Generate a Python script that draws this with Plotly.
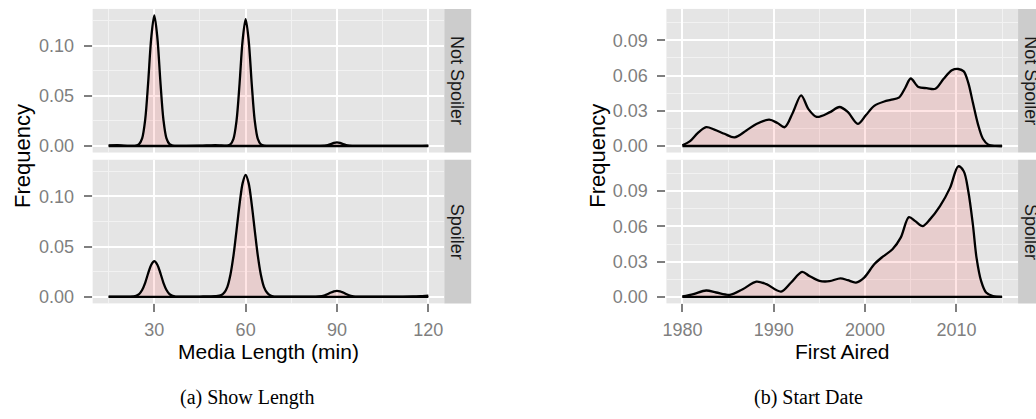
import plotly.graph_objects as go

# ---------------- data ----------------
facet_labels = ["Not Spoiler", "Spoiler"]

length_min = [15, 18, 20, 22, 24, 25, 26, 27, 28, 29, 30, 31, 32, 33, 34, 35, 36, 37, 38,
              40, 45, 48, 50, 52, 53, 54, 55, 56, 57, 58, 59, 60, 61, 62, 63, 64, 65, 66,
              67, 68, 69, 70, 75, 80, 84, 86, 87, 88, 89, 90, 91, 92, 93, 94, 95, 96,
              100, 105, 110, 115, 118, 120]

length_not_spoiler = [0.0006, 0.0008, 0.0004, 0.0002, 0.0004, 0.0018, 0.0075, 0.026, 0.064, 0.108,
                      0.130, 0.108, 0.064, 0.026, 0.0075, 0.0018, 0.0004, 0.0002, 0.0002,
                      0.0002, 0.0003, 0.0006, 0.0008, 0.0005, 0.0004, 0.0004, 0.0017, 0.0072,
                      0.025, 0.062, 0.105, 0.1264, 0.105, 0.062, 0.025, 0.0072, 0.0017, 0.0004,
                      0.0002, 0.0002, 0.0002, 0.0002, 0.0002, 0.0002, 0.0002, 0.0004, 0.0009,
                      0.0019, 0.0031, 0.0037, 0.0031, 0.0019, 0.0009, 0.0004, 0.0002, 0.0002,
                      0.0002, 0.0002, 0.0002, 0.0002, 0.0002, 0.0003]

length_spoiler = [0.0002, 0.0002, 0.0002, 0.0003, 0.0011, 0.0027, 0.0068, 0.014, 0.0236, 0.032,
                  0.0356, 0.032, 0.0236, 0.014, 0.0068, 0.0027, 0.0009, 0.0003, 0.0002,
                  0.0002, 0.0003, 0.0005, 0.0007, 0.0017, 0.0043, 0.010, 0.022, 0.041,
                  0.066, 0.092, 0.113, 0.1214, 0.113, 0.092, 0.066, 0.041, 0.022, 0.010,
                  0.0043, 0.0015, 0.0005, 0.0002, 0.0002, 0.0002, 0.0004, 0.0015, 0.0028,
                  0.0043, 0.0055, 0.006, 0.0055, 0.0043, 0.0028, 0.0015, 0.0006, 0.0003,
                  0.0002, 0.0002, 0.0002, 0.0004, 0.0008, 0.0011]

aired_ns_year = [1980.0, 1980.8, 1981.7, 1982.6, 1983.5, 1984.6, 1985.7, 1987.0, 1988.1, 1989.5,
                 1990.4, 1991.2, 1992.1, 1993.0, 1993.8, 1994.7, 1996.1, 1997.2, 1998.1, 1999.2,
                 2000.1, 2001.0, 2002.1, 2002.8, 2003.7, 2004.4, 2005.0, 2005.85, 2006.75, 2007.7,
                 2008.6, 2009.5, 2010.2, 2010.8, 2011.3, 2011.8, 2012.35, 2012.9, 2013.5, 2014.3,
                 2015.0]
aired_ns_freq = [0.0006, 0.0039, 0.0112, 0.0160, 0.0140, 0.0104, 0.0073, 0.0132, 0.0188, 0.0224,
                 0.0196, 0.0160, 0.0286, 0.0432, 0.0314, 0.0248, 0.0286, 0.0332, 0.0290, 0.0188,
                 0.0264, 0.0342, 0.0379, 0.0393, 0.0412, 0.0496, 0.0575, 0.0502, 0.0493, 0.0488,
                 0.0572, 0.0645, 0.0656, 0.0636, 0.0538, 0.0370, 0.0188, 0.0062, 0.0011, 0.0001,
                 0.0000]

aired_sp_year = [1980.0, 1981.2, 1982.6, 1983.7, 1985.2, 1986.6, 1988.1, 1989.2, 1990.8, 1991.9,
                 1993.1, 1993.9, 1995.0, 1996.1, 1997.3, 1998.1, 1999.0, 1999.9, 2001.0, 2001.9,
                 2003.0, 2003.9, 2004.8, 2005.5, 2006.3, 2007.1, 2008.2, 2009.3, 2010.2, 2010.8,
                 2011.3, 2011.8, 2012.2, 2012.7, 2013.25, 2014.0, 2015.0]
aired_sp_freq = [0.0003, 0.0023, 0.0054, 0.0037, 0.0017, 0.0065, 0.0130, 0.0108, 0.0045, 0.0122,
                 0.0212, 0.0178, 0.0136, 0.0133, 0.0158, 0.0142, 0.0122, 0.0164, 0.0277, 0.0340,
                 0.0405, 0.0504, 0.0679, 0.0645, 0.0603, 0.0660, 0.0773, 0.0928, 0.1112, 0.1070,
                 0.0900, 0.0617, 0.0334, 0.0136, 0.0037, 0.0006, 0.0000]

length_tick0, length_dtick = 0, 30
year_tick0, year_dtick = 1980, 10
len_freq_dtick = 0.05
year_freq_dtick = 0.03

x_titles = ["Media Length (min)", "First Aired"]
y_title = "Frequency"
captions = ["(a) Show Length", "(b) Start Date"]

# ---------------- layout helpers ----------------
W, H = 1036, 419


def fx(p):
    return p / W


def fy(p):
    return 1 - p / H


LEFT = [fx(89), fx(442)]
RIGHT = [fx(665), fx(1018)]
TOP = [fy(154), fy(9)]
BOT = [fy(306.3), fy(161.3)]

PANEL_BG = "#E5E5E5"
MINOR = "#F2F2F2"
GREY_TXT = "#7F7F7F"
SANS = "Liberation Sans, Arial, sans-serif"
FILL = "rgba(255,0,0,0.1)"


def expand(vals):
    lo, hi = min(vals), max(vals)
    pad = 0.05 * (hi - lo)
    return [lo - pad, hi + pad]


len_xrange = expand(length_min)
len_yrange = expand([0] + length_not_spoiler + length_spoiler)
year_xrange = expand(aired_ns_year + aired_sp_year)
year_yrange = expand([0] + aired_ns_freq + aired_sp_freq)

fig = go.Figure()

series = [
    ("x", "y", length_min, length_not_spoiler),
    ("x2", "y2", length_min, length_spoiler),
    ("x3", "y3", aired_ns_year, aired_ns_freq),
    ("x4", "y4", aired_sp_year, aired_sp_freq),
]
for xa, ya, xs, ys in series:
    fig.add_trace(go.Scatter(
        x=xs, y=ys, xaxis=xa, yaxis=ya, mode="lines",
        line=dict(color="black", width=2.3, shape="spline", smoothing=0.9),
        fill="tozeroy", fillcolor=FILL, hoverinfo="skip", showlegend=False))
    fig.add_trace(go.Scatter(
        x=[xs[0], xs[-1]], y=[0, 0], xaxis=xa, yaxis=ya, mode="lines",
        line=dict(color="black", width=2.3), hoverinfo="skip", showlegend=False))


def xaxis(domain, rng, tick0, dtick, anchor, labels):
    return dict(
        domain=domain, range=rng, anchor=anchor, tickmode="linear", tick0=tick0, dtick=dtick,
        showgrid=True, gridcolor="white", gridwidth=2, zeroline=False, showline=False,
        ticks="outside" if labels else "", ticklen=8, tickwidth=1.5, tickcolor=GREY_TXT,
        showticklabels=labels, tickfont=dict(family=SANS, size=18, color=GREY_TXT),
        ticklabelstandoff=2,
        minor=dict(tick0=tick0, dtick=dtick / 2, showgrid=True, gridcolor=MINOR, gridwidth=1, ticks=""),
    )


def yaxis(domain, rng, dtick, anchor):
    return dict(
        domain=domain, range=rng, anchor=anchor, tickmode="linear", tick0=0, dtick=dtick,
        tickformat=".2f", showgrid=True, gridcolor="white", gridwidth=2, zeroline=False,
        showline=False, ticks="outside", ticklen=8, tickwidth=1.5, tickcolor=GREY_TXT,
        tickfont=dict(family=SANS, size=18, color=GREY_TXT), ticklabelstandoff=6,
        minor=dict(tick0=0, dtick=dtick / 2, showgrid=True, gridcolor=MINOR, gridwidth=1, ticks=""),
    )


fig.update_layout(
    width=W, height=H, autosize=False,
    margin=dict(l=0, r=0, t=0, b=0),
    paper_bgcolor="white", plot_bgcolor=PANEL_BG,
    xaxis=xaxis(LEFT, len_xrange, length_tick0, length_dtick, "y", False),
    xaxis2=xaxis(LEFT, len_xrange, length_tick0, length_dtick, "y2", True),
    xaxis3=xaxis(RIGHT, year_xrange, year_tick0, year_dtick, "y3", False),
    xaxis4=xaxis(RIGHT, year_xrange, year_tick0, year_dtick, "y4", True),
    yaxis=yaxis(TOP, len_yrange, len_freq_dtick, "x"),
    yaxis2=yaxis(BOT, len_yrange, len_freq_dtick, "x2"),
    yaxis3=yaxis(TOP, year_yrange, year_freq_dtick, "x3"),
    yaxis4=yaxis(BOT, year_yrange, year_freq_dtick, "x4"),
)

shapes = []
annotations = []
strip_cols = [(442, 469), (1018, 1045)]
for (sx0, sx1) in strip_cols:
    for dom, lab in zip([TOP, BOT], facet_labels):
        shapes.append(dict(type="rect", xref="paper", yref="paper",
                           x0=fx(sx0), x1=fx(sx1), y0=dom[0], y1=dom[1],
                           fillcolor="#CCCCCC", line=dict(width=0), layer="below"))
        annotations.append(dict(xref="paper", yref="paper", x=fx((sx0 + sx1) / 2),
                                y=(dom[0] + dom[1]) / 2, text=lab, textangle=90,
                                showarrow=False, xanchor="center", yanchor="middle",
                                font=dict(family=SANS, size=18, color="#1A1A1A")))

for cx, title in zip([265.5, 841.5], x_titles):
    annotations.append(dict(xref="paper", yref="paper", x=fx(cx), y=fy(355), text=title,
                            showarrow=False, xanchor="center", yanchor="middle",
                            font=dict(family=SANS, size=21, color="black")))
for cx in [19, 596]:
    annotations.append(dict(xref="paper", yref="paper", x=fx(cx), y=fy(157.5), text=y_title,
                            textangle=-90, showarrow=False, xanchor="center", yanchor="middle",
                            font=dict(family=SANS, size=22, color="black")))
for cx, cap in zip([244, 808], captions):
    annotations.append(dict(xref="paper", yref="paper", x=fx(cx), y=fy(401), text=cap,
                            showarrow=False, xanchor="center", yanchor="middle",
                            font=dict(family="Liberation Serif, Times New Roman, serif",
                                      size=20, color="black")))

fig.update_layout(shapes=shapes, annotations=annotations)
fig.write_html("out.html", config={"displayModeBar": False},
               post_script="document.body.style.margin='0';document.body.style.overflow='hidden';")
